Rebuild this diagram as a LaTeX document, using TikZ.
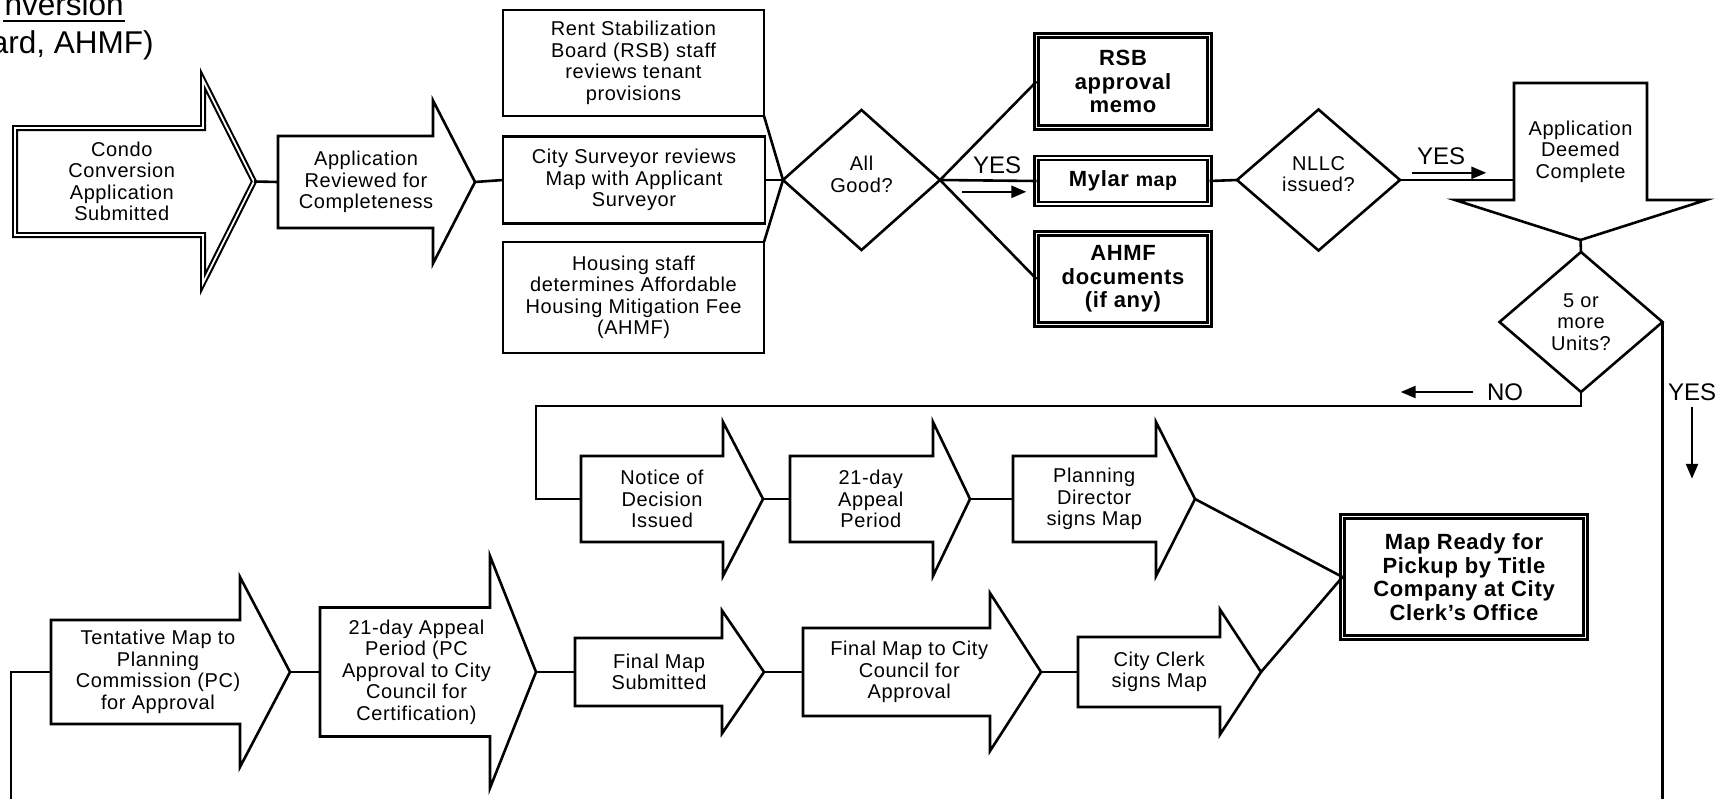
\documentclass[tikz,border=0pt]{standalone}
\usepackage{fontspec}
\setmainfont{Liberation Sans}[LetterSpace=3]
\newfontfamily\plainfont{Liberation Sans}
\usetikzlibrary{shapes.geometric,calc,arrows.meta}

\tikzset{
  stage/.style={rectangle, inner sep=0pt, outer sep=0pt, align=center, font=\fontsize{20}{21.5}\selectfont},
  task/.style={draw, rectangle, inner sep=0pt, outer sep=0pt, align=center, font=\fontsize{20}{21.5}\selectfont},
  result/.style={draw, double, double distance=1.8pt, line width=2.3pt, rectangle, inner sep=0pt, outer sep=0pt, align=center, font=\fontsize{22}{23.5}\selectfont\bfseries},
  decision/.style={draw, diamond, inner sep=0pt, outer sep=0pt, align=center, font=\fontsize{20}{21.5}\selectfont},
  answer/.style={inner sep=0pt, font=\plainfont\fontsize{24}{26}\selectfont},
  heading/.style={inner sep=0pt, font=\plainfont\fontsize{31.5}{34}\selectfont},
  hint/.style={-{Triangle[length=15pt,width=12pt]}, line width=2.4pt}
}

% outline of a right-pointing stage arrow: node, shaft length, head extend, head length
\newcommand{\rightout}[5][]{%
  \draw[#1] (#2.north west) -- ++(#3,0) -- ++(0,-#4) -- ($(#2.west)+(#3+#5,0)$) coordinate (#2-tip)
    -- ($(#2.south west)+(#3,#4)$) -- ($(#2.south west)+(#3,0)$) -- (#2.south west) -- cycle;}
% same, pointing down
\newcommand{\downout}[5][]{%
  \draw[#1] (#2.north west) -- ++(0,#3) -- ++(-#4,0) -- ($(#2.north)+(0,#3+#5)$) coordinate (#2-tip)
    -- ($(#2.north east)+(#4,#3)$) -- ($(#2.north east)+(0,#3)$) -- (#2.north east) -- cycle;}

\begin{document}
\begin{tikzpicture}[x=1pt, y=-1pt, line width=2.6pt]
\useasboundingbox (0,0) rectangle (1735,798);
\clip (0,0) rectangle (1735,798);

% title, cut off at the left edge
\node[heading, anchor=base east] (head1) at (125,15) {nversion};
\node[heading, anchor=base east] (head2) at (155,53) {ard, AHMF)};
\draw[line width=2pt] ([yshift=-6pt]head1.base west) -- ([yshift=-6pt]head1.base east);

% first row
\node[stage, minimum width=213.5, minimum height=107] (submit) at (121.75,181.5) {Condo\\Conversion\\Application\\Submitted};
\rightout[double, double distance=1.8pt, line width=2.1pt]{submit}{188}{48}{51}
\node[stage, minimum width=176, minimum height=92] (review) at (366,182) {Application\\Reviewed for\\Completeness};
\rightout{review}{155}{35.5}{42}

\node[task, minimum width=261, minimum height=106] (rsb) at (633.5,63) {Rent Stabilization\\Board (RSB) staff\\reviews tenant\\provisions};
\node[task, minimum width=262, minimum height=87] (survey) at (634,180) {City Surveyor reviews\\Map with Applicant\\Surveyor};
\node[task, minimum width=261, minimum height=111] (housing) at (633.5,297.5) {Housing staff\\determines Affordable\\Housing Mitigation Fee\\(AHMF)};
\node[decision, minimum width=157, minimum height=140] (good) at (861.5,180) {All\\Good?\rule[-11pt]{0pt}{0pt}};

\node[result, minimum width=173, minimum height=92] (memo) at (1123,81.5) {RSB\\approval\\memo};
\node[result, minimum width=173, minimum height=46] (mylar) at (1123,181) {Mylar {\fontsize{19.5}{20}\selectfont map}};
\node[result, minimum width=173, minimum height=91] (ahmf) at (1123,279) {AHMF\\documents\\(if any)};
\node[decision, minimum width=163, minimum height=141] (nllc) at (1318.5,180) {NLLC\\issued?\rule[-12pt]{0pt}{0pt}};

\node[stage, minimum width=133, minimum height=137] (complete) at (1580.5,151.5) {Application\\Deemed\\Complete};
\downout{complete}{117}{59}{40}
\node[decision, minimum width=163, minimum height=140] (units) at (1581,322) {5 or\\more\\Units?};

% second row
\node[stage, minimum width=162, minimum height=86] (notice) at (662,499) {Notice of\\Decision\\Issued};
\rightout{notice}{142}{34}{40}
\node[stage, minimum width=161.5, minimum height=86] (appeal) at (870.75,499) {21-day\\Appeal\\Period};
\rightout{appeal}{143}{34}{37}
\node[stage, minimum width=162.5, minimum height=86] (director) at (1094.25,499) {Planning\\Director\\signs Map};
\rightout{director}{143}{34}{39}
\node[result, minimum width=243, minimum height=121] (ready) at (1464,577) {Map Ready for\\Pickup by Title\\Company at City\\Clerk’s Office};

% third row
\node[stage, minimum width=214, minimum height=104] (tentative) at (158,672) {Tentative Map to\\Planning\\Commission (PC)\\for Approval};
\rightout{tentative}{189}{43}{50}
\node[stage, minimum width=193, minimum height=129] (pcappeal) at (416.5,672) {21-day Appeal\\Period (PC\\Approval to City\\Council for\\Certification)};
\rightout{pcappeal}{170}{51.5}{46}
\node[stage, minimum width=168, minimum height=68] (final) at (659,672) {Final Map\\Submitted};
\rightout{final}{147}{27.5}{42}
\node[stage, minimum width=212.5, minimum height=88] (council) at (909.25,672) {Final Map to City\\Council for\\Approval};
\rightout{council}{187}{35}{51}
\node[stage, minimum width=162.5, minimum height=70] (clerk) at (1159.25,672) {City Clerk\\signs Map};
\rightout{clerk}{142}{27.5}{41}

% connectors
\draw (submit-tip) -- (review.west);
\draw (review-tip) -- (survey.west);
\draw (rsb.south east) -- (good.west);
\draw (survey.east) -- (good.west);
\draw (housing.north east) -- (good.west);
\draw (good.east) -- (memo.west);
\draw (good.east) -- (mylar.west);
\draw (good.east) -- (ahmf.west);
\draw (mylar.east) -- (nllc.west);
\draw (nllc.east) -- (nllc.east -| complete.west);
\draw (complete-tip) -- (units.north);
\draw (units.south) -- ++(0,14) -| ([xshift=-45pt]notice.west) -- (notice.west);
\draw (notice-tip) -- (appeal.west);
\draw (appeal-tip) -- (director.west);
\draw (director-tip) -- (ready.west);
% the YES branch runs on below the page to the third row
\coordinate (loopR) at (1663,810);
\coordinate (loopL) at (11,810);
\draw (units.east) -- (units.east |- loopR);
\draw (loopL) |- (tentative.west);
\draw (tentative-tip) -- (pcappeal.west);
\draw (pcappeal-tip) -- (final.west);
\draw (final-tip) -- (council.west);
\draw (council-tip) -- (clerk.west);
\draw (clerk-tip) -- (ready.west);

% branch labels
\node[answer] (yes1) at (997,165) {YES};
\draw[hint] ([xshift=-10pt,yshift=-17pt]yes1.south west) -- ([xshift=4pt,yshift=-17pt]yes1.south east);
\node[answer] (yes2) at (1441,156) {YES};
\draw[hint] ([xshift=-4pt,yshift=-7pt]yes2.south west) -- ([xshift=20pt,yshift=-7pt]yes2.south east);
\node[answer] (no) at (1505,392) {NO};
\draw[hint] ([xshift=-13pt]no.west) -- ([xshift=-85pt]no.west);
\node[answer] (yes3) at (1692,392) {YES};
\draw[hint] ([yshift=-5pt]yes3.south) -- ([yshift=-77pt]yes3.south);
\end{tikzpicture}
\end{document}
